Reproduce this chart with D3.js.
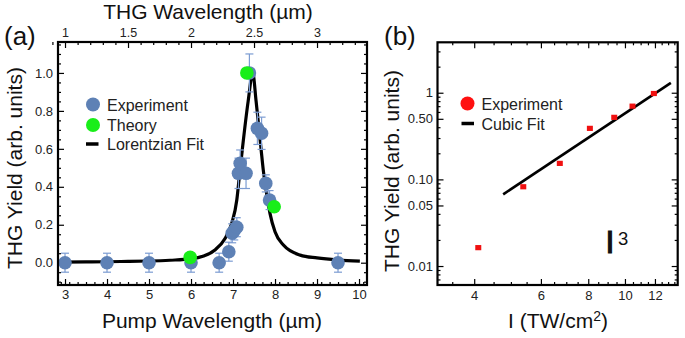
<!DOCTYPE html>
<html><head><meta charset="utf-8">
<script src="https://cdn.jsdelivr.net/npm/d3@7"></script>
<style>
body{margin:0;background:#fff;}
svg{font-family:"Liberation Sans",Arial,sans-serif;}
</style></head>
<body><svg id="c" width="685" height="338"></svg>
<script>
// ---- Panel (a) data ----
const expX   = [3, 4, 5, 6, 6.67, 6.9, 6.98, 7.03, 7.09, 7.13, 7.17, 7.31, 7.39, 7.58, 7.68, 7.78, 7.87, 9.5];
const expY   = [0, 0, 0, 0, 0, 0.058, 0.155, 0.17, 0.187, 0.471, 0.524, 0.471, 1.0, 0.708, 0.682, 0.418, 0.33, 0];
const expErr = [0.05, 0.05, 0.05, 0.05, 0.05, 0.05, 0.05, 0.05, 0.05, 0.08, 0.07, 0.08, 0.1, 0.085, 0.085, 0.045, 0.05, 0.05];
const theoryX = [5.98, 7.33, 7.98];
const theoryY = [0.028, 1.0, 0.295];
const fitX = [2.88, 3.5, 4, 4.5, 5, 5.5, 6, 6.3, 6.57, 6.81, 6.97, 7.09, 7.15, 7.22, 7.36, 7.47, 7.55, 7.67, 7.72, 7.80, 7.88, 8.0, 8.2, 8.6, 9.0, 9.5, 10.02];
const fitY = [0.003, 0.004, 0.005, 0.007, 0.009, 0.013, 0.02, 0.035, 0.067, 0.128, 0.208, 0.33, 0.453, 0.594, 0.85, 1.0, 0.85, 0.594, 0.489, 0.366, 0.26, 0.163, 0.093, 0.04, 0.025, 0.014, 0.008];
const pumpTicks = [3, 4, 5, 6, 7, 8, 9, 10];
const thgTicks = [1, 1.5, 2, 2.5, 3];
const yTicksA = [0, 0.2, 0.4, 0.6, 0.8, 1.0];

// ---- Panel (b) data ----
const intensity = [4.1, 5.39, 6.73, 8.08, 9.37, 10.47, 11.92];
const yieldB    = [0.0163, 0.0822, 0.153, 0.388, 0.52, 0.70, 0.98];
const xErrB     = [0, 0, 0, 0, 0, 0, 0.18];
const cubicI = [4.77, 13.22];
const cubicY = [0.0672, 1.30];
const iTicks = [4, 6, 8, 10, 12];
const yTicksB = [0.01, 0.05, 0.1, 0.5, 1];
const yTickLabelsB = ["0.01", "0.05", "0.10", "0.50", "1"];

const svg = d3.select("#c");
const BLUE = "#5E81B5", EBAR = "#7C9CD2", GREEN = "#19ee19", RED = "#f01010", TXT = "#222";

function frame(g, x0, y0, x1, y1){
  g.append("rect").attr("x", x0).attr("y", y0).attr("width", x1 - x0).attr("height", y1 - y0)
   .attr("fill", "none").attr("stroke", "#000").attr("stroke-width", 2.2);
}
function ticks(g, scale, vals, orient, pos, len){
  const a = (orient === "bottom" ? d3.axisBottom : orient === "top" ? d3.axisTop : orient === "left" ? d3.axisLeft : d3.axisRight)(scale)
      .tickValues(vals).tickSize(-len).tickSizeOuter(0).tickFormat("");
  const tr = (orient === "bottom" || orient === "top") ? `translate(0,${pos})` : `translate(${pos},0)`;
  const gg = g.append("g").attr("transform", tr).call(a);
  gg.select(".domain").remove();
  gg.selectAll("line").attr("stroke", "#000").attr("stroke-width", 1.2);
}
function labels(g, scale, vals, fmt, orient, pos, size){
  const a = (orient === "bottom" ? d3.axisBottom : orient === "top" ? d3.axisTop : d3.axisLeft)(scale)
      .tickValues(vals).tickSize(0).tickPadding(0).tickFormat(fmt);
  const tr = (orient === "bottom" || orient === "top") ? `translate(0,${pos})` : `translate(${pos},0)`;
  const gg = g.append("g").attr("transform", tr).call(a);
  gg.select(".domain").remove();
  gg.selectAll("text").attr("fill", TXT).style("font-size", size + "px").style("font-family", '"Liberation Sans",Arial,sans-serif');
  return gg;
}

// ================= Panel (a) =================
const A = {l: 58, t: 42, r: 367, b: 285};
const xA = d3.scaleLinear().domain([2.833, 10.19]).range([A.l, A.r]);
const xTop = d3.scaleLinear().domain([2.833 / 3, 10.19 / 3]).range([A.l, A.r]);
const yA = d3.scaleLinear().domain([-0.1175, 1.163]).range([A.b, A.t]);
const gA = svg.append("g");

// minor ticks
const pumpMinor = d3.range(2.9, 10.2, 0.2).filter(v => Math.abs(v - Math.round(v)) > 0.01);
const thgMinor = d3.range(0.9, 3.4, 0.1).filter(v => Math.abs(v * 2 - Math.round(v * 2)) > 0.01);
const yMinorA = d3.range(-0.1, 1.16, 0.05).filter(v => Math.abs(v * 5 - Math.round(v * 5)) > 0.01);
ticks(gA, xA, pumpTicks, "bottom", A.b, 6);
ticks(gA, xA, pumpMinor, "bottom", A.b, 3);
ticks(gA, xTop, thgTicks, "top", A.t, 6);
ticks(gA, xTop, thgMinor, "top", A.t, 3);
ticks(gA, yA, yTicksA, "left", A.l, 6);
ticks(gA, yA, yMinorA, "left", A.l, 3);
ticks(gA, yA, yTicksA, "right", A.r, 6);
ticks(gA, yA, yMinorA, "right", A.r, 3);

labels(gA, xA, pumpTicks, d3.format("d"), "bottom", 290, 13);
labels(gA, xTop, thgTicks, d => d3.format("")(d), "top", 37, 12.5).selectAll("text").attr("dy", 0);
labels(gA, yA, yTicksA, d3.format(".1f"), "left", 53, 13);

// fit curve
const fitLine = d3.line().x(d => xA(d[0])).y(d => yA(d[1])).curve(d3.curveMonotoneX);
gA.append("path").datum(d3.zip(fitX, fitY)).attr("d", fitLine)
  .attr("fill", "none").attr("stroke", "#000").attr("stroke-width", 3.2);

// error bars
const expData = d3.zip(expX, expY, expErr);
const eb = gA.append("g").attr("stroke", EBAR).attr("stroke-width", 1.2);
expData.forEach(([x, y, e]) => {
  eb.append("line").attr("x1", xA(x)).attr("x2", xA(x)).attr("y1", yA(y - e)).attr("y2", yA(y + e));
  [y - e, y + e].forEach(v => eb.append("line").attr("x1", xA(x) - 4).attr("x2", xA(x) + 4).attr("y1", yA(v)).attr("y2", yA(v)));
});
gA.append("g").selectAll("circle").data(expData).join("circle")
  .attr("cx", d => xA(d[0])).attr("cy", d => yA(d[1])).attr("r", 6.8).attr("fill", BLUE);
gA.append("g").selectAll("circle").data(d3.zip(theoryX, theoryY)).join("circle")
  .attr("cx", d => xA(d[0])).attr("cy", d => yA(d[1])).attr("r", 6.8).attr("fill", GREEN);

frame(gA, A.l, A.t, A.r, A.b);

// legend (a)
gA.append("circle").attr("cx", 93).attr("cy", 104.5).attr("r", 7).attr("fill", BLUE);
gA.append("circle").attr("cx", 93).attr("cy", 125).attr("r", 7).attr("fill", GREEN);
gA.append("line").attr("x1", 86).attr("x2", 98.5).attr("y1", 144).attr("y2", 144).attr("stroke", "#000").attr("stroke-width", 3.5);
[["Experiment", 110.5], ["Theory", 131], ["Lorentzian Fit", 149.5]].forEach(([t, y]) =>
  gA.append("text").attr("x", 107).attr("y", y).attr("fill", TXT).style("font-size", "16px").text(t));

// axis titles (a)
gA.append("text").attr("x", 212).attr("y", 328).attr("text-anchor", "middle").attr("fill", "#111").style("font-size", "21px").text("Pump Wavelength (\u00b5m)");
gA.append("text").attr("x", 208).attr("y", 19).attr("text-anchor", "middle").attr("fill", "#111").style("font-size", "21px").text("THG Wavelength (\u00b5m)");
gA.append("text").attr("transform", "translate(22,168) rotate(-90)").attr("text-anchor", "middle").attr("fill", "#111").style("font-size", "21px").text("THG Yield (arb. units)");
gA.append("text").attr("x", 4).attr("y", 45).attr("fill", "#111").style("font-size", "26px").text("(a)");

// ================= Panel (b) =================
const B = {l: 437.5, t: 42.3, r: 677.7, b: 285};
const xB = d3.scaleLog().domain([3.2, 13.78]).range([B.l, B.r]);
const yB = d3.scaleLog().domain([0.00604, 3.82]).range([B.b, B.t]);
const gB = svg.append("g");

const iMinor = d3.range(3.5, 13.8, 0.5).filter(v => !iTicks.includes(v));
const yMinorB = [0.007, 0.008, 0.009, 0.02, 0.03, 0.04, 0.06, 0.07, 0.08, 0.09, 0.2, 0.3, 0.4, 0.6, 0.7, 0.8, 0.9, 2, 3];
ticks(gB, xB, iTicks, "bottom", B.b, 6);
ticks(gB, xB, iMinor, "bottom", B.b, 3);
ticks(gB, xB, iTicks, "top", B.t, 6);
ticks(gB, xB, iMinor, "top", B.t, 3);
ticks(gB, yB, yTicksB, "left", B.l, 6);
ticks(gB, yB, yMinorB, "left", B.l, 3);
ticks(gB, yB, yTicksB, "right", B.r, 6);
ticks(gB, yB, yMinorB, "right", B.r, 3);

labels(gB, xB, iTicks, d3.format("d"), "bottom", 291, 13);
labels(gB, yB, yTicksB, (d, i) => yTickLabelsB[i], "left", 433, 13);

// cubic fit
gB.append("path").datum(d3.zip(cubicI, cubicY))
  .attr("d", d3.line().x(d => xB(d[0])).y(d => yB(d[1])))
  .attr("fill", "none").attr("stroke", "#000").attr("stroke-width", 2.6);

// points
const bData = d3.zip(intensity, yieldB, xErrB);
bData.forEach(([x, y, e]) => {
  if (e > 0) gB.append("line").attr("x1", xB(x - e)).attr("x2", xB(x + e)).attr("y1", yB(y)).attr("y2", yB(y))
    .attr("stroke", RED).attr("stroke-width", 4);
});
gB.append("g").selectAll("rect").data(bData).join("rect")
  .attr("x", d => xB(d[0]) - 3).attr("y", d => yB(d[1]) - 2.6).attr("width", 6).attr("height", 5.2).attr("fill", RED);

frame(gB, B.l, B.t, B.r, B.b);

// legend (b)
gB.append("circle").attr("cx", 467.5).attr("cy", 103.5).attr("r", 7).attr("fill", "#ff1010");
gB.append("line").attr("x1", 461.5).attr("x2", 474).attr("y1", 123.5).attr("y2", 123.5).attr("stroke", "#000").attr("stroke-width", 3.5);
[["Experiment", 109.5], ["Cubic Fit", 129.5]].forEach(([t, y]) =>
  gB.append("text").attr("x", 481.5).attr("y", y).attr("fill", TXT).style("font-size", "16px").text(t));

// I^3 annotation
const ann = gB.append("text").attr("x", 605.5).attr("y", 253.3).attr("fill", "#111");
ann.append("tspan").style("font-size", "32px").attr("stroke", "#111").attr("stroke-width", 1.1).text("I");
ann.append("tspan").attr("dx", 3.5).attr("dy", -8.3).style("font-size", "18.5px").text("3");

// axis titles (b)
const xt = gB.append("text").attr("x", 558).attr("y", 328).attr("text-anchor", "middle").attr("fill", "#111").style("font-size", "21px");
xt.append("tspan").text("I (TW/cm");
xt.append("tspan").attr("dy", -7).style("font-size", "14px").text("2");
xt.append("tspan").attr("dy", 7).text(")");
gB.append("text").attr("transform", "translate(399,171) rotate(-90)").attr("text-anchor", "middle").attr("fill", "#111").style("font-size", "21px").text("THG Yield (arb. units)");
gB.append("text").attr("x", 384).attr("y", 45).attr("fill", "#111").style("font-size", "26px").text("(b)");
</script></body></html>
